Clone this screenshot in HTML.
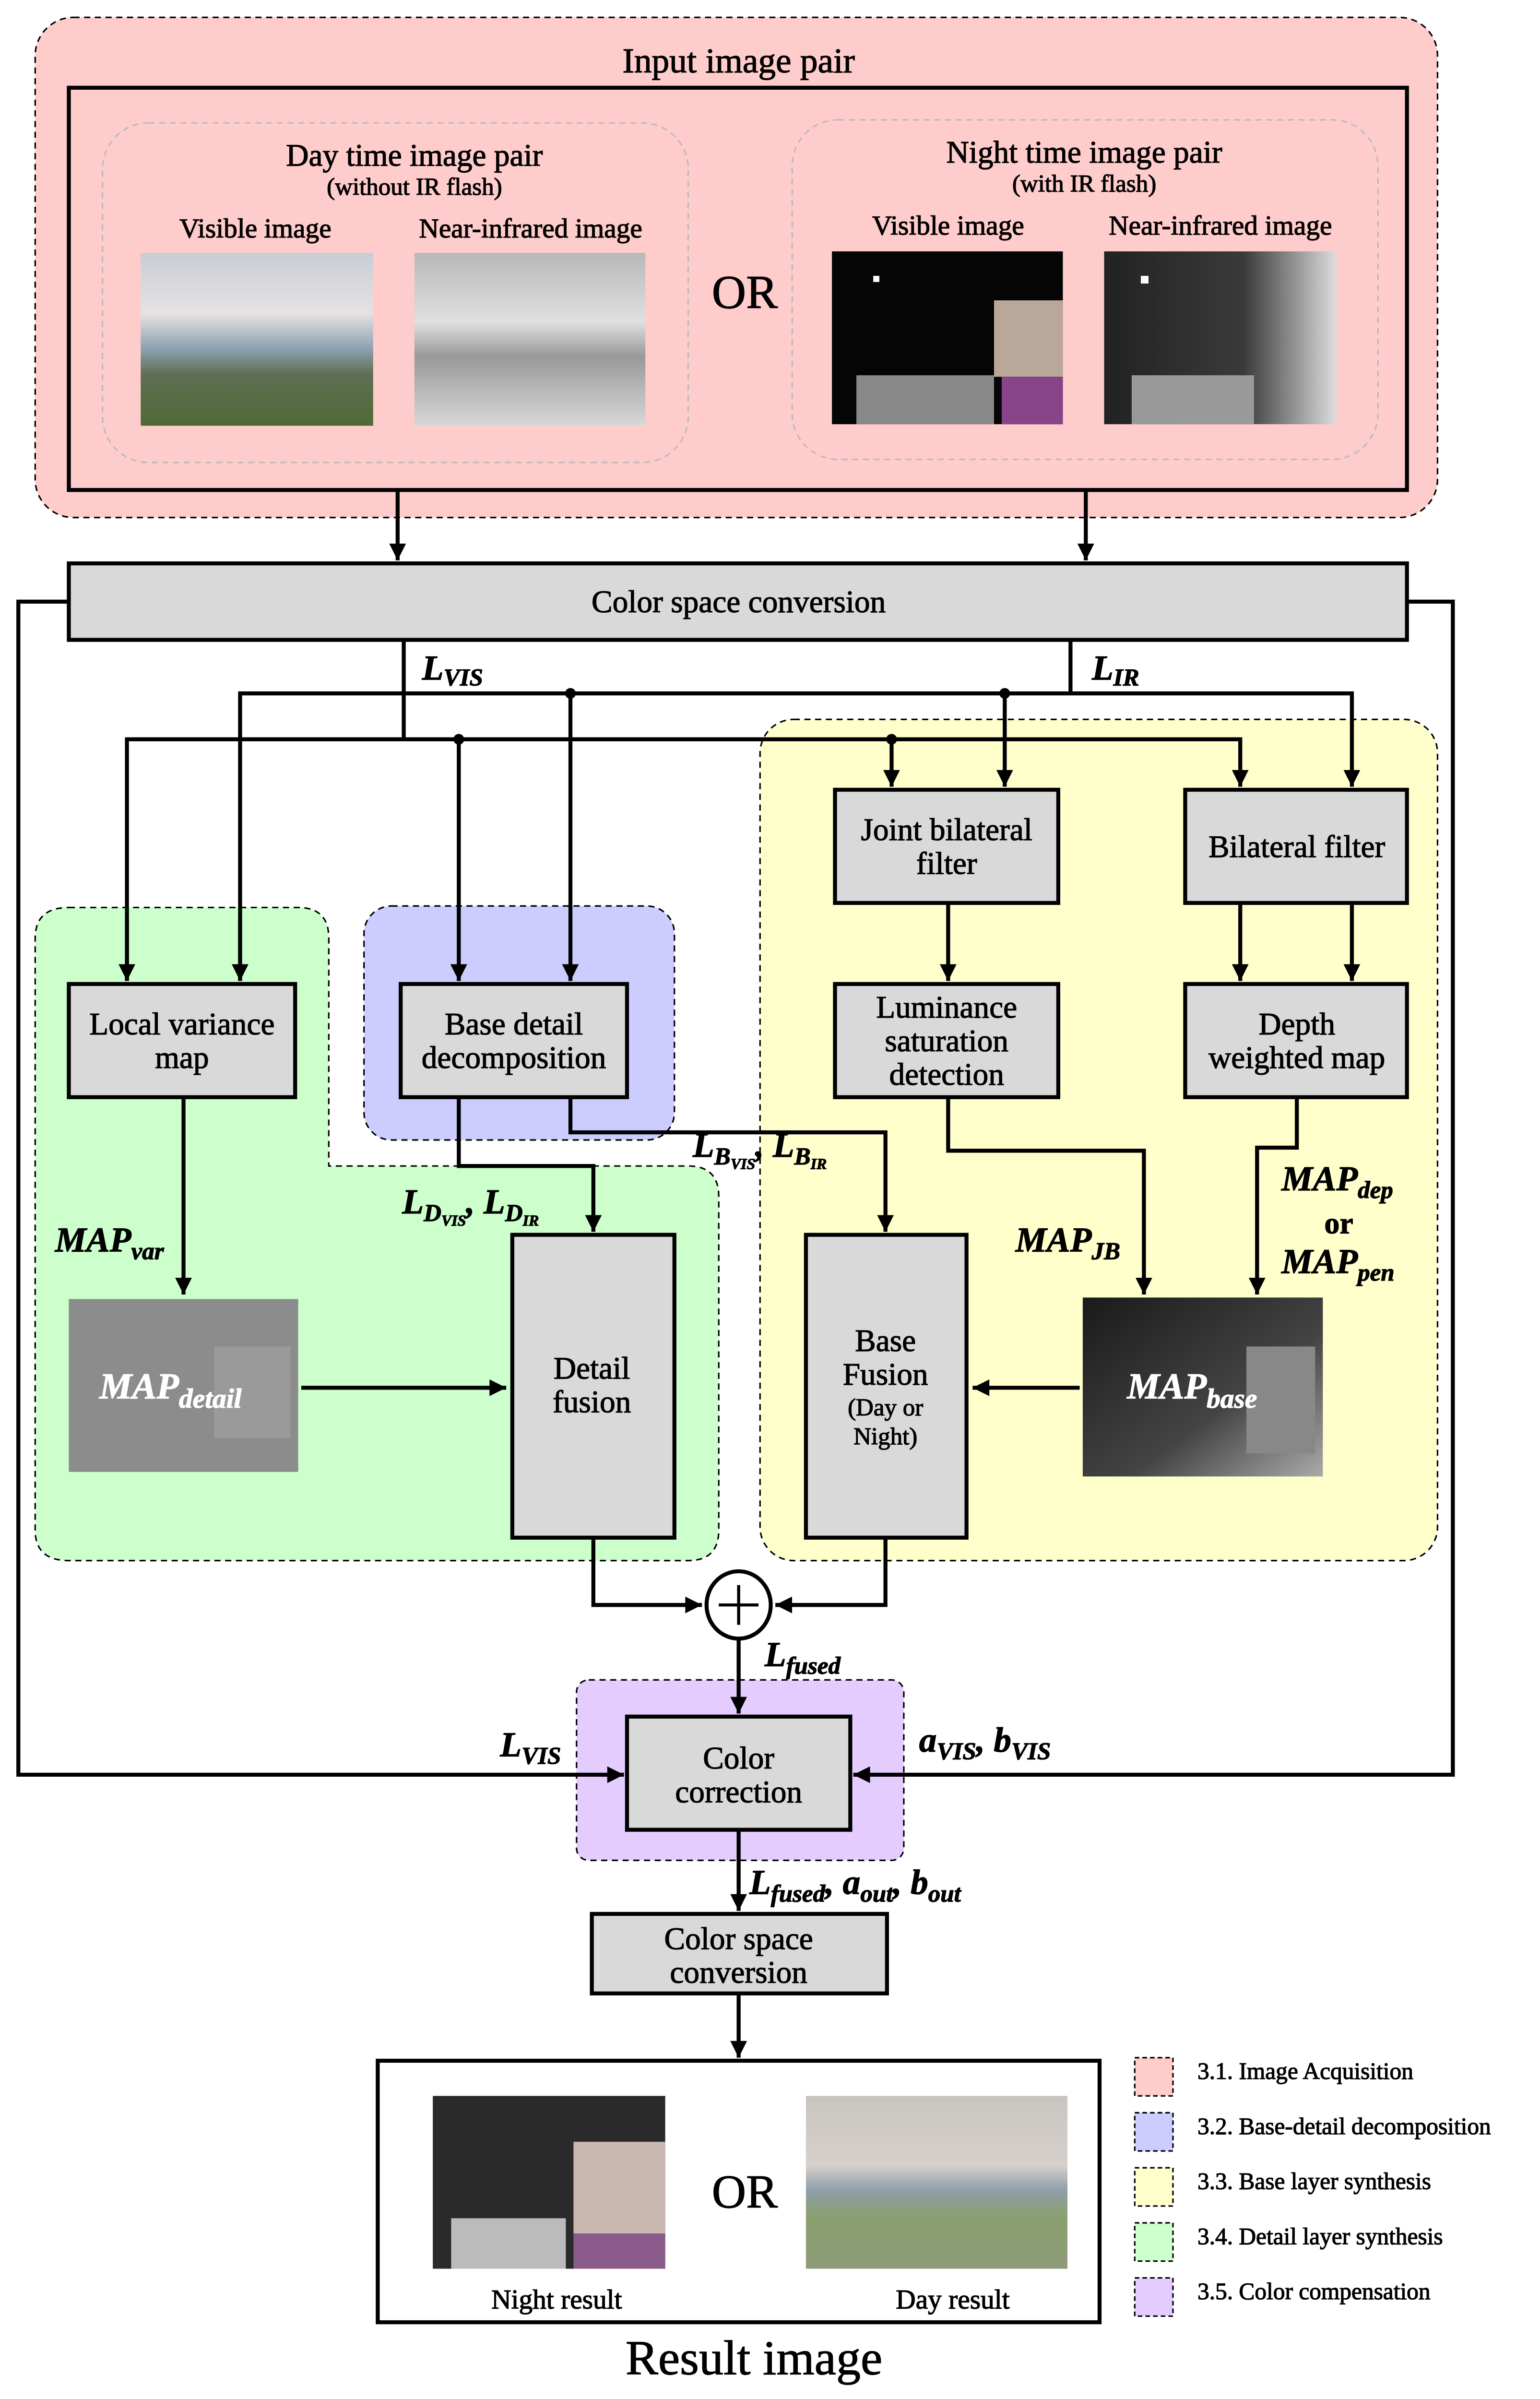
<!DOCTYPE html>
<html><head><meta charset="utf-8"><style>
html,body{margin:0;padding:0;background:#fff;overflow:hidden;width:3210px;height:5109px}
svg{display:block}
text{font-family:"Liberation Serif",serif;fill:#000;stroke:#000;stroke-width:0.4}
.t{font-size:20.5px;text-anchor:middle}
.s{font-size:16px;text-anchor:middle}
.m{font-style:italic;font-weight:bold;font-size:23px}
.sub{font-size:16px}
.lg{font-size:15.5px}
.ln{fill:none;stroke:#000;stroke-width:2.6}
.box{fill:#d9d9d9;stroke:#000;stroke-width:2.6}
.w{fill:#fff;stroke:#fff}
</style></head><body>
<svg width="3210" height="5109" viewBox="0 0 1007 1602" xmlns="http://www.w3.org/2000/svg">
<defs>
<marker id="a" viewBox="0 0 10 10" refX="10" refY="5" markerWidth="4.6" markerHeight="4.2" orient="auto" markerUnits="strokeWidth"><path d="M0,0L10,5L0,10z" fill="#000"/></marker>
<linearGradient id="day" x1="0" y1="0" x2="0" y2="1"><stop offset="0" stop-color="#c9cdd6"/><stop offset="0.35" stop-color="#e6e2e2"/><stop offset="0.55" stop-color="#8ea3b3"/><stop offset="0.7" stop-color="#5f6e55"/><stop offset="1" stop-color="#4f6a35"/></linearGradient>
<linearGradient id="nir" x1="0" y1="0" x2="0" y2="1"><stop offset="0" stop-color="#b8b8b8"/><stop offset="0.4" stop-color="#e0e0e0"/><stop offset="0.6" stop-color="#999"/><stop offset="1" stop-color="#d8d8d8"/></linearGradient>
<linearGradient id="dayr" x1="0" y1="0" x2="0" y2="1"><stop offset="0" stop-color="#c8c4c0"/><stop offset="0.4" stop-color="#d6d0cc"/><stop offset="0.55" stop-color="#8e9ea8"/><stop offset="0.7" stop-color="#8aa070"/><stop offset="1" stop-color="#8e9c78"/></linearGradient>
<linearGradient id="nnir" x1="0" y1="0" x2="1" y2="0"><stop offset="0" stop-color="#222"/><stop offset="0.6" stop-color="#3a3a3a"/><stop offset="1" stop-color="#ddd"/></linearGradient>
<linearGradient id="mb" x1="0" y1="0" x2="1" y2="1"><stop offset="0" stop-color="#1a1a1a"/><stop offset="0.6" stop-color="#444"/><stop offset="1" stop-color="#aaa"/></linearGradient>
</defs>
<rect x="23" y="11" width="917" height="327" rx="25" fill="#ffcccc" stroke="#000" stroke-width="1" stroke-dasharray="4,3"/>
<text class="t" x="483" y="47" style="font-size:23px">Input image pair</text>
<rect x="45" y="57" width="875" height="263" fill="none" stroke="#000" stroke-width="2.6"/>
<rect x="67" y="80" width="383" height="222" rx="30" fill="none" stroke="#bbb" stroke-width="1" stroke-dasharray="4,3"/>
<rect x="518" y="78" width="383" height="222" rx="30" fill="none" stroke="#bbb" stroke-width="1" stroke-dasharray="4,3"/>
<text class="t" x="271" y="108">Day time image pair</text>
<text class="s" x="271" y="127">(without IR flash)</text>
<text class="s" x="167" y="155" style="font-size:18px">Visible image</text>
<text class="s" x="347" y="155" style="font-size:18px">Near-infrared image</text>
<rect x="92" y="165" width="152" height="113" fill="url(#day)"/>
<rect x="271" y="165" width="151" height="113" fill="url(#nir)"/>
<text class="t" x="487" y="201" style="font-size:31px">OR</text>
<text class="t" x="709" y="106">Night time image pair</text>
<text class="s" x="709" y="125">(with IR flash)</text>
<text class="s" x="620" y="153" style="font-size:18px">Visible image</text>
<text class="s" x="798" y="153" style="font-size:18px">Near-infrared image</text>
<rect x="544" y="164" width="151" height="113" fill="#050505"/>
<rect x="650" y="196" width="45" height="50" fill="#b9a79a"/>
<rect x="655" y="246" width="40" height="31" fill="#884488"/>
<rect x="560" y="245" width="90" height="32" fill="#888"/>
<rect x="571" y="180" width="4" height="4" fill="#fff"/>
<rect x="722" y="164" width="152" height="113" fill="url(#nnir)"/>
<rect x="740" y="245" width="80" height="32" fill="#999"/>
<rect x="746" y="180" width="5" height="5" fill="#fff"/>
<path class="ln" d="M260,320V366" marker-end="url(#a)"/>
<path class="ln" d="M710,320V366" marker-end="url(#a)"/>
<rect x="497" y="470" width="443" height="550" rx="22" fill="#ffffcc" stroke="#000" stroke-width="1" stroke-dasharray="4,3"/>
<path d="M45,593H195Q215,593 215,613V762H450Q470,762 470,782V1000Q470,1020 450,1020H45Q23,1020 23,1000V613Q23,593 45,593Z" fill="#ccffcc" stroke="#000" stroke-width="1" stroke-dasharray="4,3"/>
<rect x="238" y="592" width="203" height="153" rx="18" fill="#ccccff" stroke="#000" stroke-width="1" stroke-dasharray="4,3"/>
<rect x="377" y="1098" width="214" height="118" rx="8" fill="#e5ccff" stroke="#000" stroke-width="1" stroke-dasharray="4,3"/>
<rect class="box" x="45" y="368" width="875" height="50"/>
<text class="t" x="483" y="400">Color space conversion</text>
<path class="ln" d="M45,393H12V1160H408" marker-end="url(#a)"/>
<path class="ln" d="M920,393H950V1160H558" marker-end="url(#a)"/>
<path class="ln" d="M264,418V483"/>
<path class="ln" d="M700,418V453"/>
<path class="ln" d="M157,641V453H884V514" marker-end="url(#a)"/>
<path class="ln" d="M83,641V483H811V514" marker-end="url(#a)"/>
<path class="ln" d="M157,600V641" marker-end="url(#a)"/>
<path class="ln" d="M83,600V641" marker-end="url(#a)"/>
<path class="ln" d="M300,483V641" marker-end="url(#a)"/>
<path class="ln" d="M373,453V641" marker-end="url(#a)"/>
<path class="ln" d="M583,483V514" marker-end="url(#a)"/>
<path class="ln" d="M657,453V514" marker-end="url(#a)"/>
<circle cx="300" cy="483" r="3.5"/><circle cx="373" cy="453" r="3.5"/><circle cx="583" cy="483" r="3.5"/><circle cx="657" cy="453" r="3.5"/>
<text class="m" x="276" y="444">L<tspan class="sub" dy="4">VIS</tspan></text>
<text class="m" x="714" y="444">L<tspan class="sub" dy="4">IR</tspan></text>
<rect class="box" x="546" y="516" width="146" height="74"/>
<text class="t" x="619" y="549">Joint bilateral</text><text class="t" x="619" y="571">filter</text>
<rect class="box" x="775" y="516" width="145" height="74"/>
<text class="t" x="848" y="560">Bilateral filter</text>
<path class="ln" d="M620,590V641" marker-end="url(#a)"/>
<path class="ln" d="M811,590V641" marker-end="url(#a)"/>
<path class="ln" d="M884,590V641" marker-end="url(#a)"/>
<rect class="box" x="546" y="643" width="146" height="74"/>
<text class="t" x="619" y="665">Luminance</text><text class="t" x="619" y="687">saturation</text><text class="t" x="619" y="709">detection</text>
<rect class="box" x="775" y="643" width="145" height="74"/>
<text class="t" x="848" y="676">Depth</text><text class="t" x="848" y="698">weighted map</text>
<rect class="box" x="45" y="643" width="148" height="74"/>
<text class="t" x="119" y="676">Local variance</text><text class="t" x="119" y="698">map</text>
<rect class="box" x="262" y="643" width="148" height="74"/>
<text class="t" x="336" y="676">Base detail</text><text class="t" x="336" y="698">decomposition</text>
<path class="ln" d="M120,717V846" marker-end="url(#a)"/>
<text class="m" x="36" y="818">MAP<tspan class="sub" dy="5">var</tspan></text>
<rect x="45" y="849" width="150" height="113" fill="#8c8c8c"/>
<rect x="140" y="880" width="50" height="60" fill="#9a9a9a"/>
<text class="m w" x="65" y="914" style="font-size:24px">MAP<tspan class="sub w" dy="6" style="font-size:18px">detail</tspan></text>
<path class="ln" d="M197,907H331" marker-end="url(#a)"/>
<rect class="box" x="335" y="807" width="106" height="198"/>
<text class="t" x="387" y="901">Detail</text><text class="t" x="387" y="923">fusion</text>
<path class="ln" d="M300,717V762H388V805" marker-end="url(#a)"/>
<text class="m" x="263" y="793">L<tspan class="sub" dy="5">D</tspan><tspan style="font-size:10px" dy="3">VIS</tspan><tspan dy="-8">, L</tspan><tspan class="sub" dy="5">D</tspan><tspan style="font-size:10px" dy="3">IR</tspan></text>
<path class="ln" d="M373,717V740H579V805" marker-end="url(#a)"/>
<text class="m" x="453" y="756">L<tspan class="sub" dy="5">B</tspan><tspan style="font-size:10px" dy="3">VIS</tspan><tspan dy="-8">, L</tspan><tspan class="sub" dy="5">B</tspan><tspan style="font-size:10px" dy="3">IR</tspan></text>
<rect class="box" x="527" y="807" width="105" height="198"/>
<text class="t" x="579" y="883">Base</text><text class="t" x="579" y="905">Fusion</text>
<text class="s" x="579" y="925">(Day or</text><text class="s" x="579" y="944">Night)</text>
<path class="ln" d="M620,717V752H748V846" marker-end="url(#a)"/>
<text class="m" x="664" y="818">MAP<tspan class="sub" dy="5">JB</tspan></text>
<path class="ln" d="M848,717V750H822V846" marker-end="url(#a)"/>
<text class="m" x="838" y="778">MAP<tspan class="sub" dy="5">dep</tspan></text>
<text class="m" x="866" y="806" style="font-style:normal;font-size:20px">or</text>
<text class="m" x="838" y="832">MAP<tspan class="sub" dy="5">pen</tspan></text>
<rect x="708" y="848" width="157" height="117" fill="url(#mb)"/>
<rect x="815" y="880" width="45" height="70" fill="#888"/>
<text class="m w" x="737" y="914" style="font-size:24px">MAP<tspan class="sub w" dy="6" style="font-size:18px">base</tspan></text>
<path class="ln" d="M706,907H636" marker-end="url(#a)"/>
<path class="ln" d="M388,1005V1049H459" marker-end="url(#a)"/>
<path class="ln" d="M579,1005V1049H507" marker-end="url(#a)"/>
<ellipse cx="483" cy="1049" rx="21" ry="22" fill="#fff" stroke="#000" stroke-width="2.6"/>
<path d="M470,1049H496M483,1036V1062" stroke="#000" stroke-width="2"/>
<path class="ln" d="M483,1071V1120" marker-end="url(#a)"/>
<text class="m" x="500" y="1089">L<tspan class="sub" dy="5">fused</tspan></text>
<rect class="box" x="410" y="1122" width="146" height="74"/>
<text class="t" x="483" y="1156">Color</text><text class="t" x="483" y="1178">correction</text>
<text class="m" x="327" y="1148">L<tspan class="sub" dy="5">VIS</tspan></text>
<text class="m" x="601" y="1145">a<tspan class="sub" dy="5">VIS</tspan><tspan dy="-5">, b</tspan><tspan class="sub" dy="5">VIS</tspan></text>
<path class="ln" d="M483,1196V1249" marker-end="url(#a)"/>
<text class="m" x="490" y="1238">L<tspan class="sub" dy="5">fused</tspan><tspan dy="-5">, a</tspan><tspan class="sub" dy="5">out</tspan><tspan dy="-5">, b</tspan><tspan class="sub" dy="5">out</tspan></text>
<rect class="box" x="387" y="1251" width="193" height="52"/>
<text class="t" x="483" y="1274">Color space</text><text class="t" x="483" y="1296">conversion</text>
<path class="ln" d="M483,1303V1345" marker-end="url(#a)"/>
<rect x="247" y="1347" width="472" height="171" fill="#fff" stroke="#000" stroke-width="2.6"/>
<rect x="283" y="1370" width="152" height="113" fill="#2a2a2a"/>
<rect x="375" y="1400" width="60" height="60" fill="#c8b8b0"/>
<rect x="375" y="1460" width="60" height="23" fill="#8a5a8a"/>
<rect x="295" y="1450" width="75" height="33" fill="#bbb"/>
<rect x="527" y="1370" width="171" height="113" fill="url(#dayr)"/>
<text class="t" x="487" y="1443" style="font-size:31px">OR</text>
<text class="s" x="364" y="1509" style="font-size:18px">Night result</text>
<text class="s" x="623" y="1509" style="font-size:18px">Day result</text>
<text class="t" x="493" y="1552" style="font-size:32px">Result image</text>
<g stroke="#000" stroke-width="1" stroke-dasharray="3,2">
<rect x="742" y="1345" width="25" height="25" fill="#ffcccc"/>
<rect x="742" y="1381" width="25" height="25" fill="#ccccff"/>
<rect x="742" y="1417" width="25" height="25" fill="#ffffcc"/>
<rect x="742" y="1453" width="25" height="25" fill="#ccffcc"/>
<rect x="742" y="1489" width="25" height="25" fill="#e5ccff"/>
</g>
<text class="lg" x="783" y="1359">3.1. Image Acquisition</text>
<text class="lg" x="783" y="1395">3.2. Base-detail decomposition</text>
<text class="lg" x="783" y="1431">3.3. Base layer synthesis</text>
<text class="lg" x="783" y="1467">3.4. Detail layer synthesis</text>
<text class="lg" x="783" y="1503">3.5. Color compensation</text>
</svg>
</body></html>
